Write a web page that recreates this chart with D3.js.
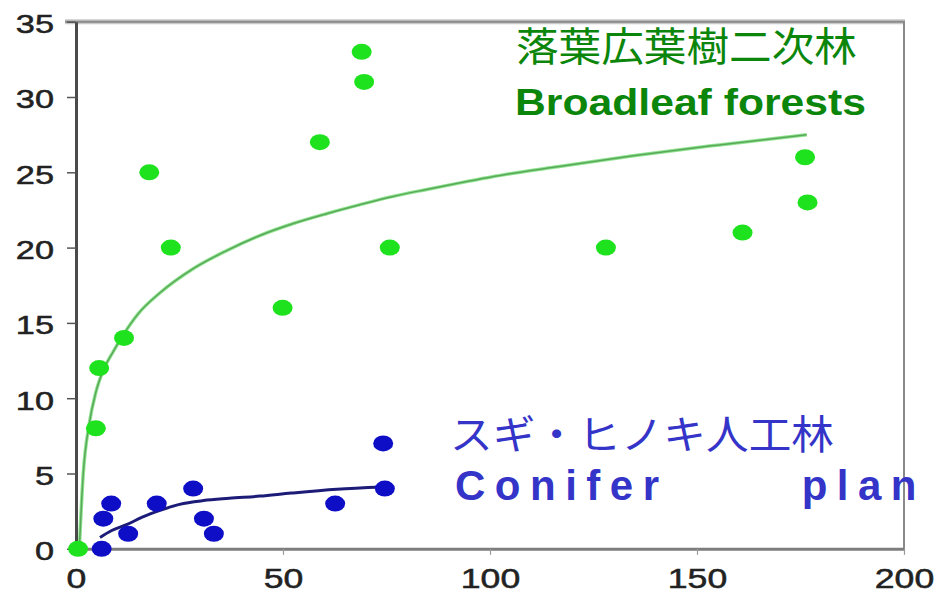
<!DOCTYPE html>
<html>
<head>
<meta charset="utf-8">
<script src="https://cdn.jsdelivr.net/npm/d3@7"></script>
<style>
  html, body { margin: 0; padding: 0; background: #fff; }
  svg { display: block; }
</style>
</head>
<body>
<svg id="chart" width="941" height="595"></svg>
<script>
// Broadleaf secondary forests (green) and conifer plantations (blue)
const broadleafX = [0.5, 4.8, 5.6, 11.6, 17.7, 22.9, 49.9, 58.9, 69.0, 69.6, 75.8, 128, 161, 176.1, 176.7];
const broadleafY = [0, 8, 12, 14, 25, 20, 16, 27, 33, 31, 20, 20, 21, 26, 23];
const coniferX = [6.2, 6.6, 8.5, 12.6, 19.5, 28.3, 30.9, 33.3, 62.6, 74.2, 74.6];
const coniferY = [0, 2, 3, 1, 3, 4, 2, 1, 3, 7, 4];

// Trend curves
const broadleafTrendX = [0.8, 1.7, 3.2, 4.8, 6.5, 9, 11.4, 15, 20.3, 28.3, 36.4, 44.4, 52.5, 60.5, 68.6, 76.6, 84.7, 92.8, 104.8, 114.5, 134.6, 154.8, 176.5];
const broadleafTrendY = [0, 4.8, 8.3, 10.4, 11.8, 13.1, 14.2, 15.6, 17.0, 18.6, 19.8, 20.8, 21.6, 22.25, 22.85, 23.4, 23.86, 24.3, 24.9, 25.3, 26.1, 26.8, 27.5];
const coniferTrendX = [5.8, 8.5, 12.2, 16, 20.3, 25, 30.8, 37, 44.4, 52, 63, 74];
const coniferTrendY = [0.75, 1.2, 1.6, 2.1, 2.55, 2.95, 3.2, 3.35, 3.5, 3.7, 3.95, 4.1];

const xTicks = [0, 50, 100, 150, 200];
const yTicks = [0, 5, 10, 15, 20, 25, 30, 35];

const labelBroadleafJa = "落葉広葉樹二次林";
const labelBroadleafEn = "Broadleaf forests";
const labelConiferJa = "スギ・ヒノキ人工林";
const labelConiferEn = "Conifer plantations";

const svg = d3.select("#chart");
const plotLeft = 76, plotRight = 904, plotTop = 21.7, plotBottom = 548.8;

const x = d3.scaleLinear().domain([0, 200]).range([plotLeft, plotRight]);
const y = d3.scaleLinear().domain([0, 35]).range([plotBottom, plotTop]);

// Frame: top and right borders
svg.append("line")
  .attr("x1", 65).attr("x2", plotRight + 1).attr("y1", plotTop).attr("y2", plotTop)
  .attr("stroke", "#c8c8c8").attr("stroke-width", 5);
svg.append("line")
  .attr("x1", 65).attr("x2", plotRight + 1).attr("y1", plotTop).attr("y2", plotTop)
  .attr("stroke", "#8a8a8a").attr("stroke-width", 2);
svg.append("line")
  .attr("x1", plotRight).attr("x2", plotRight).attr("y1", plotTop).attr("y2", plotBottom)
  .attr("stroke", "#8a8a8a").attr("stroke-width", 2);

// Axes
const xAxis = svg.append("g")
  .attr("transform", `translate(0,${plotBottom})`)
  .call(d3.axisBottom(x).tickValues(xTicks).tickSize(6).tickSizeOuter(0).tickPadding(14));
xAxis.select(".domain").attr("stroke", "#7d7d7d").attr("stroke-width", 3);
xAxis.selectAll(".tick line").attr("stroke", "#9a9a9a").attr("stroke-width", 1.2);
xAxis.selectAll(".tick text")
  .attr("font-family", "Liberation Sans, Arial, sans-serif")
  .attr("font-size", 27)
  .attr("fill", "#222")
  .attr("stroke", "#222").attr("stroke-width", 0.5)
  .attr("transform", "scale(1.32,1)");

const yAxis = svg.append("g")
  .attr("transform", `translate(${plotLeft},0)`)
  .call(d3.axisLeft(y).tickValues(yTicks).tickSize(9).tickSizeOuter(0).tickPadding(13));
yAxis.select(".domain").attr("stroke", "#4a4a4a").attr("stroke-width", 3);
yAxis.selectAll(".tick line").attr("stroke", "#555").attr("stroke-width", 1.5);
yAxis.selectAll(".tick text")
  .attr("font-family", "Liberation Sans, Arial, sans-serif")
  .attr("font-size", 26)
  .attr("fill", "#222")
  .attr("stroke", "#222").attr("stroke-width", 0.5)
  .attr("x", -22 / 1.32)
  .attr("dy", "0.42em")
  .attr("transform", "scale(1.32,1)");

// Trend curves
const line = d3.line().x(d => x(d[0])).y(d => y(d[1])).curve(d3.curveMonotoneX);

svg.append("path")
  .datum(d3.zip(broadleafTrendX, broadleafTrendY))
  .attr("d", line)
  .attr("fill", "none")
  .attr("stroke", "#8fe48f")
  .attr("stroke-width", 3.5);
svg.append("path")
  .datum(d3.zip(broadleafTrendX, broadleafTrendY))
  .attr("d", line)
  .attr("fill", "none")
  .attr("stroke", "#5aa85a")
  .attr("stroke-width", 1.5);

svg.append("path")
  .datum(d3.zip(coniferTrendX, coniferTrendY))
  .attr("d", line)
  .attr("fill", "none")
  .attr("stroke", "#1c1c78")
  .attr("stroke-width", 3);

// Points
svg.append("g").selectAll("ellipse")
  .data(d3.zip(coniferX, coniferY))
  .join("ellipse")
  .attr("cx", d => x(d[0]))
  .attr("cy", d => y(d[1]))
  .attr("rx", 10).attr("ry", 8)
  .attr("fill", "#0e0ec6");

svg.append("g").selectAll("ellipse")
  .data(d3.zip(broadleafX, broadleafY))
  .join("ellipse")
  .attr("cx", d => x(d[0]))
  .attr("cy", d => y(d[1]))
  .attr("rx", 10).attr("ry", 8)
  .attr("fill", "#1ee21e");

// Series labels
svg.append("text")
  .attr("x", 516).attr("y", 61)
  .attr("font-family", "Noto Sans CJK JP, sans-serif")
  .attr("font-size", 40)
  .attr("fill", "#0b860b")
  .attr("textLength", 341).attr("lengthAdjust", "spacingAndGlyphs")
  .text(labelBroadleafJa);

svg.append("text")
  .attr("x", 515).attr("y", 115)
  .attr("font-family", "Liberation Sans, Arial, sans-serif")
  .attr("font-weight", "bold")
  .attr("font-size", 37.5)
  .attr("fill", "#0b860b")
  .attr("textLength", 351).attr("lengthAdjust", "spacingAndGlyphs")
  .text(labelBroadleafEn);

svg.append("text")
  .attr("x", 450).attr("y", 449)
  .attr("font-family", "Noto Sans CJK JP, sans-serif")
  .attr("font-size", 40)
  .attr("fill", "#3434c8")
  .attr("textLength", 384).attr("lengthAdjust", "spacingAndGlyphs")
  .text(labelConiferJa);

// The conifer caption runs past the right edge of its box and is cut there
svg.append("clipPath").attr("id", "caption-clip")
  .append("rect").attr("x", 440).attr("y", 460).attr("width", 482).attr("height", 60);

svg.append("text")
  .attr("clip-path", "url(#caption-clip)")
  .attr("x", 455).attr("y", 500)
  .attr("font-family", "Liberation Sans, Arial, sans-serif")
  .attr("font-weight", "bold")
  .attr("font-size", 42)
  .attr("fill", "#3434c8")
  .style("letter-spacing", "9.5px")
  .style("word-spacing", "112px")
  .text(labelConiferEn);
</script>
</body>
</html>
